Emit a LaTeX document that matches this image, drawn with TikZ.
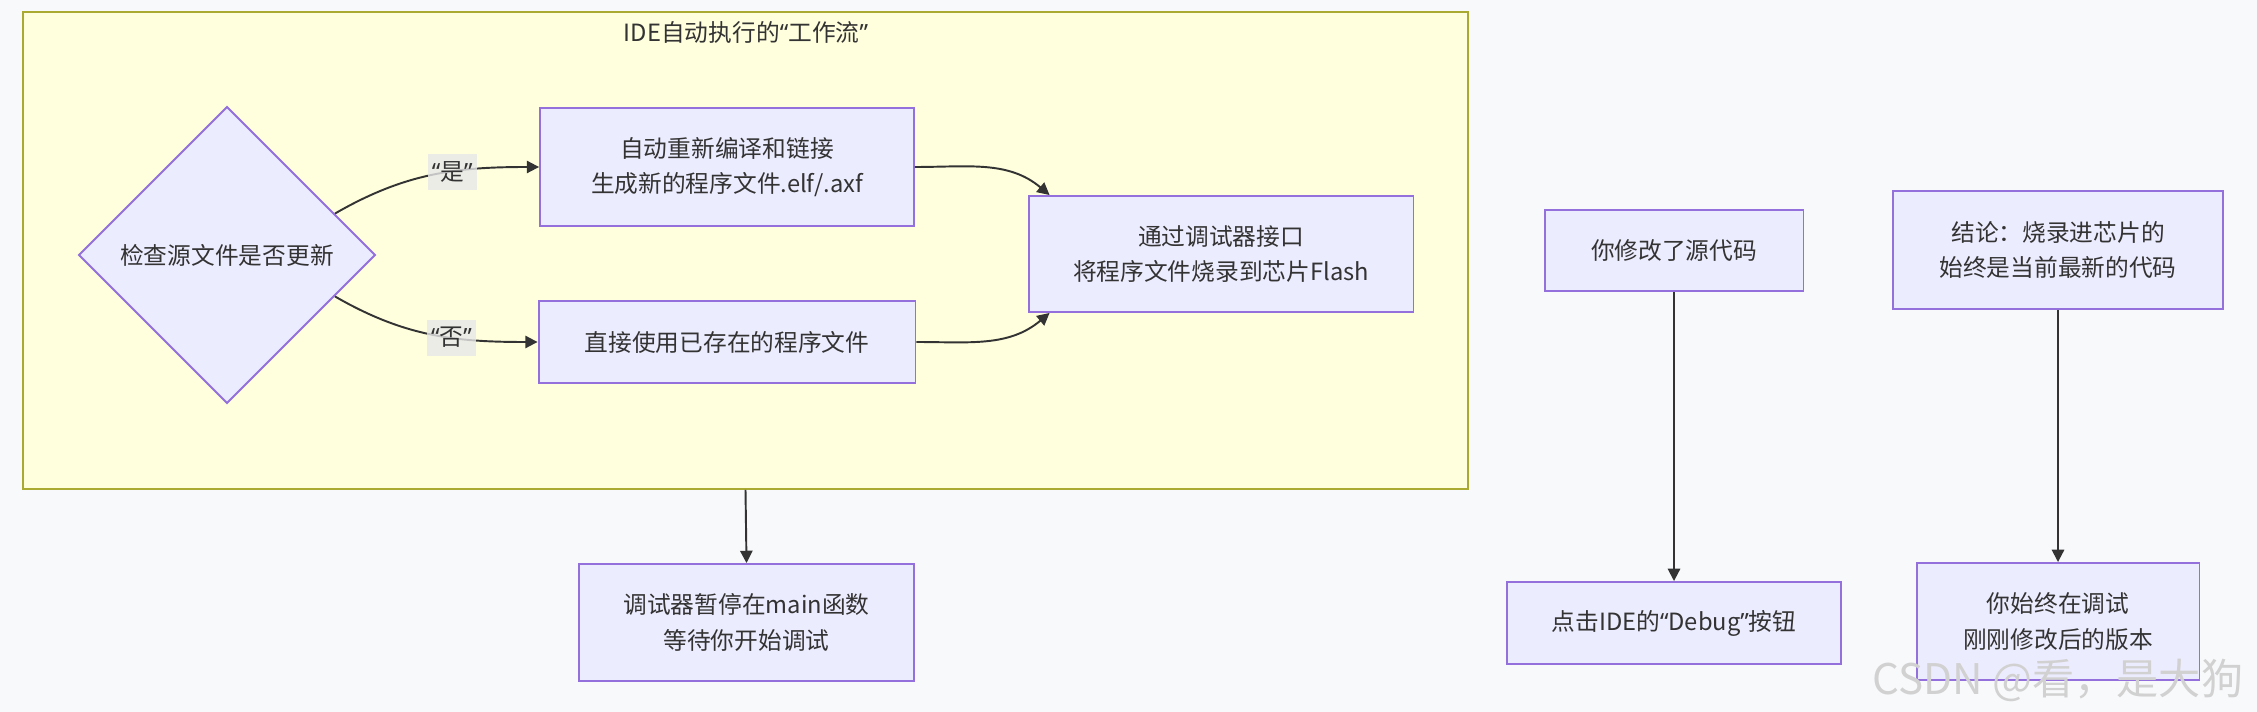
\documentclass[tikz,border=0pt]{standalone}
\usepackage{fontspec}
\newfontfamily\cjk{Noto Sans CJK SC}
\newfontfamily\lat{Noto Sans}
\usetikzlibrary{arrows.meta,shapes.geometric}

\definecolor{bgc}{HTML}{F8F9FB}
\definecolor{grpfill}{HTML}{FFFFDE}
\definecolor{grpline}{HTML}{AAAA33}
\definecolor{boxfill}{HTML}{ECECFF}
\definecolor{boxline}{HTML}{9370DB}
\definecolor{ink}{HTML}{333333}
\definecolor{lblfill}{HTML}{E8E8E8}

\newcommand{\quoted}[1]{{\lat “}#1{\lat ”}}

\tikzset{
  txt/.style={font=\cjk\fontsize{13.5pt}{20pt}\selectfont, text=ink, align=center},
  proc/.style={txt, draw=boxline, fill=boxfill, line width=1.1pt, inner sep=0pt},
  cond/.style={proc, diamond, shape aspect=1, minimum size=5.94cm},
  grp/.style={draw=grpline, fill=grpfill, line width=1.1pt, inner sep=0pt},
  lbl/.style={txt, fill=lblfill, fill opacity=0.8, text opacity=1, inner sep=0pt,
    minimum width=0.98cm, minimum height=0.72cm},
  arr/.style={draw=ink, line width=1.1pt, -{Triangle[length=7pt,width=7pt]}}
}

\begin{document}
\begin{tikzpicture}[x=0.02cm, y=-0.02cm]
  \fill[bgc] (0,0) rectangle (2257,712);
  \useasboundingbox (0,0) rectangle (2257,712);

  % group box
  \node[grp, minimum width=28.9cm, minimum height=9.54cm] (flow) at (745.5,250.5) {};
  \node[txt] (flowtitle) at (746,32) {IDE自动执行的\quoted{工作流}};

  \node[cond] (chk) at (227,255) {检查源文件是否更新};
  \node[proc, minimum width=7.48cm, minimum height=2.36cm] (gen) at (727,167)
    {自动重新编译和链接\\生成新的程序文件.elf/.axf};
  \node[proc, minimum width=7.54cm, minimum height=1.64cm] (reuse) at (727,342)
    {直接使用已存在的程序文件};
  \node[proc, minimum width=7.7cm, minimum height=2.32cm] (burn) at (1221,254)
    {通过调试器接口\\将程序文件烧录到芯片Flash};
  \node[proc, minimum width=6.7cm, minimum height=2.34cm] (dbg) at (746.5,622.5)
    {调试器暂停在main函数\\等待你开始调试};

  \node[proc, minimum width=5.18cm, minimum height=1.62cm] (edit) at (1674,250.5)
    {你修改了源代码};
  \node[proc, minimum width=6.68cm, minimum height=1.64cm] (click) at (1674,623)
    {点击IDE的\quoted{Debug}按钮};
  \node[proc, minimum width=6.6cm, minimum height=2.36cm] (concl) at (2058,250)
    {结论：烧录进芯片的\\始终是当前最新的代码};
  \node[proc, minimum width=5.66cm, minimum height=2.34cm] (same) at (2058,621.5)
    {你始终在调试\\刚刚修改后的版本};

  \draw[arr] (chk.21) to[out=30,in=180] node[lbl, pos=0.6] {\quoted{是}} (gen.west);
  \draw[arr] (chk.-21) to[out=-30,in=180] node[lbl, pos=0.6] {\quoted{否}} (reuse.west);
  \draw[arr] (gen.east) to[out=0,in=140] ([xshift=0.44cm]burn.north west);
  \draw[arr] (reuse.east) to[out=0,in=-140] ([xshift=0.44cm]burn.south west);
  \draw[arr] (flow.south) -- (dbg.north);
  \draw[arr] (edit.south) -- (click.north);
  \draw[arr] (concl.south) -- (same.north);

  % watermark
  \node[font=\cjk\fontsize{24pt}{24pt}\selectfont, text=black!18] (mark) at (2058,680)
    {CSDN @看，是大狗};
\end{tikzpicture}
\end{document}
